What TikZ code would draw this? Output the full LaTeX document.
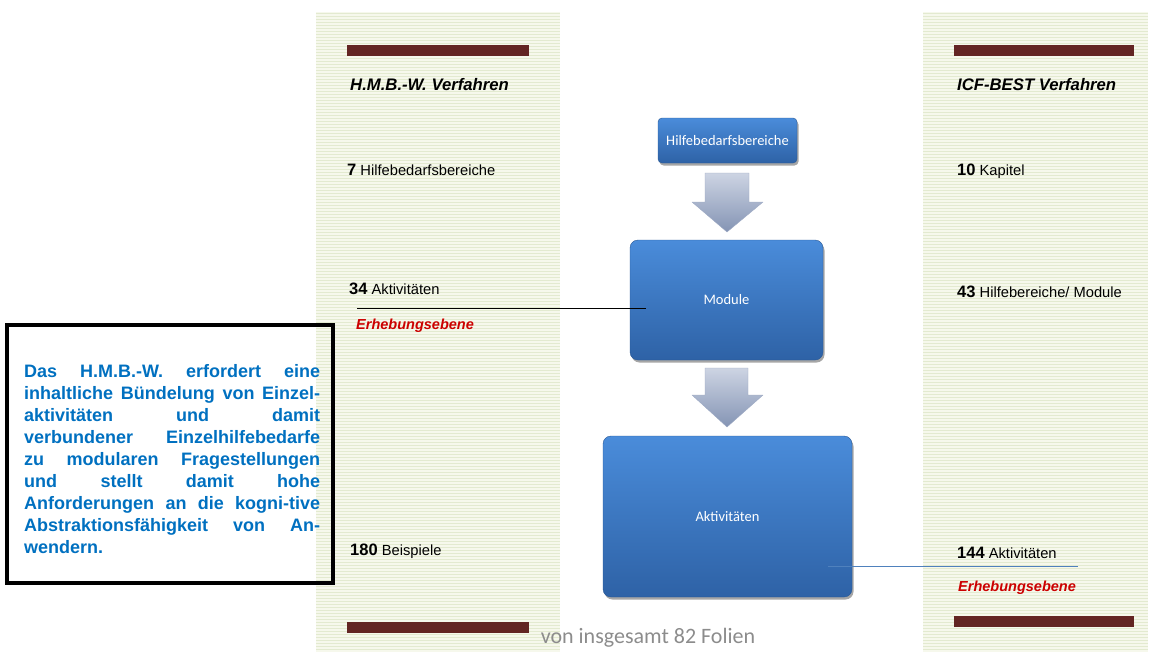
\documentclass[tikz,border=0pt]{standalone}
\usepackage{fontspec}
\setmainfont{Liberation Sans}
\newfontfamily\calib{Carlito}
\usetikzlibrary{shadows}
\definecolor{barred}{HTML}{632523}
\definecolor{stripebg}{HTML}{F6F8EC}
\definecolor{stripeln}{HTML}{E3EAD0}
\definecolor{txtblue}{HTML}{0070C0}
\definecolor{erhred}{HTML}{CC0000}
\definecolor{boxtop}{HTML}{4A8CDA}
\definecolor{boxbot}{HTML}{2E62A6}
\definecolor{arrtop}{HTML}{CDD4E3}
\definecolor{arrbot}{HTML}{8494B4}
\definecolor{linkblue}{HTML}{4F81BD}
\definecolor{footgray}{HTML}{8C8C8C}
\newcommand{\jl}[1]{\hbox to 296pt{#1}}
\newcommand{\numlbl}[2]{{\fontsize{16.5}{19}\selectfont\bfseries #1}{\fontsize{14.7}{17}\selectfont\ #2}}
\begin{document}
\begin{tikzpicture}[x=1pt,y=-1pt,
  panel/.style={fill=stripebg,draw=none},
  stripe/.style={stripeln,line width=1pt},
  bar/.style={fill=barred,draw=none},
  lbl/.style={anchor=base west,inner sep=0pt,text=black},
  title/.style={lbl,font=\fontsize{16.7}{19}\selectfont\bfseries\itshape},
  erh/.style={lbl,text=erhred,font=\fontsize{14.5}{17}\selectfont\bfseries\itshape},
  bluebox/.style={rounded corners=8pt,top color=boxtop,bottom color=boxbot,draw=boxbot!90!black,line width=0.4pt,
    text=white,font=\calib\fontsize{14.5}{17}\selectfont,inner sep=0pt,
    drop shadow={shadow xshift=1.5pt,shadow yshift=-2.5pt,opacity=.35,fill=black}},
  blockarrow/.style={top color=arrtop,bottom color=arrbot,draw=arrbot!80!white,line width=0.4pt,line join=round}
]
\useasboundingbox (0,0) rectangle (1151,653);
% panels with stripes
\fill[panel] (316,12) rectangle (560,652);
\fill[panel] (923,12) rectangle (1148,652);
\foreach \yy in {13.5,16.5,...,651} {
  \draw[stripe] (316,\yy) -- (560,\yy);
  \draw[stripe] (923,\yy) -- (1148,\yy);
}
% bars
\fill[bar] (347,45) rectangle (529,56);
\fill[bar] (347,622) rectangle (529,633);
\fill[bar] (954,45) rectangle (1134,56);
\fill[bar] (954,616) rectangle (1134,627);
% titles
\node[title] (t1) at (350,90) {H.M.B.-W. Verfahren};
\node[title] (t2) at (957,90) {ICF-BEST Verfahren};
% left labels
\node[lbl] (l7) at (347,175) {\numlbl{7}{Hilfebedarfsbereiche}};
\node[lbl] (l34) at (349,294) {\numlbl{34}{Aktivit\"aten}};
\node[erh] (le) at (356,329) {Erhebungsebene};
\node[lbl] (l180) at (350,555) {\numlbl{180}{Beispiele}};
% right labels
\node[lbl] (r10) at (957,175) {\numlbl{10}{Kapitel}};
\node[lbl] (r43) at (957,297) {\numlbl{43}{Hilfebereiche/ Module}};
\node[lbl] (r144) at (957,558) {\numlbl{144}{Aktivit\"aten}};
\node[erh] (re) at (958,591) {Erhebungsebene};
% text box
\node[draw=black,line width=4pt,minimum width=326pt,minimum height=258pt,inner sep=0pt] (tb) at (170,454) {};
\node[anchor=base west,inner sep=0pt,text=txtblue,font=\fontsize{18}{22}\selectfont\bfseries] (tbt) at (24,377) {%
\vtop{\baselineskip=22pt\lineskiplimit=-20pt
\jl{Das\hfill H.M.B.-W.\hfill erfordert\hfill eine}
\jl{inhaltliche\hfill B\"undelung\hfill von\hfill Einzel-}
\jl{aktivit\"aten\hfill und\hfill damit}
\jl{verbundener\hfill Einzelhilfebedarfe}
\jl{zu\hfill modularen\hfill Fragestellungen}
\jl{und\hfill stellt\hfill damit\hfill hohe}
\jl{Anforderungen\hfill an\hfill die\hfill kogni-tive}
\jl{Abstraktionsf\"ahigkeit\hfill von\hfill An-}
\jl{wendern.\hfill}}};
% blue boxes
\node[bluebox,minimum width=139pt,minimum height=45pt,rounded corners=4pt] (hb) at (727.5,140.5) {Hilfebedarfsbereiche};
\node[bluebox,minimum width=193pt,minimum height=120pt] (mod) at (726.5,300) {Module};
\node[bluebox,minimum width=249pt,minimum height=161pt] (akt) at (727.5,516.5) {Aktivit\"aten};
% block arrows
\draw[blockarrow] (705,173) -- (749,173) -- (749,202) -- (763,202) -- (727,232) -- (692,202) -- (705,202) -- cycle;
\draw[blockarrow] (705,368) -- (748,368) -- (748,395) -- (763,395) -- (727,427) -- (692,395) -- (705,395) -- cycle;
% connector lines
\coordinate (c1s) at (357,308);
\coordinate (c1e) at (646,308);
\draw[black,line width=1pt] (c1s) -- (c1e);
\coordinate (c2s) at (828,566);
\coordinate (c2e) at (1078,566);
\draw[linkblue,line width=1pt] (c2s) -- (c2e);
% footer
\node[anchor=base,inner sep=0pt,text=footgray,font=\calib\fontsize{22}{25}\selectfont] (foot) at (648,643) {von insgesamt 82 Folien};
\end{tikzpicture}
\end{document}
